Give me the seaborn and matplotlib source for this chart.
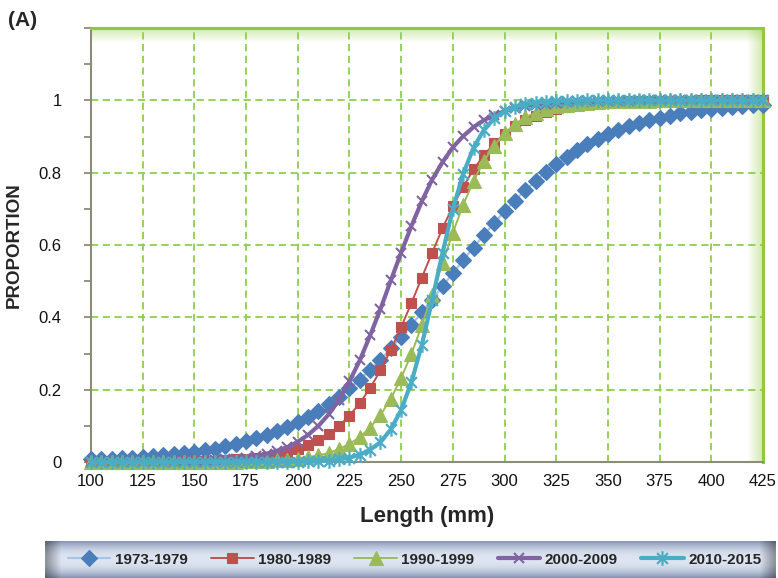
import numpy as np
import pandas as pd
import matplotlib
matplotlib.use("Agg")
import matplotlib.pyplot as plt
import seaborn as sns
from matplotlib.path import Path
from matplotlib.ticker import FixedLocator, FuncFormatter

# ---------------- data ----------------
lengths = [100, 105, 110, 115, 120, 125, 130, 135, 140, 145, 150, 155, 160, 165,
           170, 175, 180, 185, 190, 195, 200, 205, 210, 215, 220, 225, 230, 235,
           240, 245, 250, 255, 260, 265, 270, 275, 280, 285, 290, 295, 300, 305,
           310, 315, 320, 325, 330, 335, 340, 345, 350, 355, 360, 365, 370, 375,
           380, 385, 390, 395, 400, 405, 410, 415, 420, 425]

p_1973_1979 = [0.007, 0.008, 0.009, 0.010, 0.012, 0.014, 0.016, 0.019, 0.021, 0.025,
               0.028, 0.033, 0.037, 0.043, 0.049, 0.057, 0.065, 0.074, 0.085, 0.097,
               0.110, 0.125, 0.142, 0.161, 0.181, 0.204, 0.228, 0.255, 0.283, 0.314,
               0.346, 0.379, 0.414, 0.449, 0.486, 0.522, 0.558, 0.593, 0.628, 0.661,
               0.693, 0.723, 0.751, 0.777, 0.801, 0.823, 0.843, 0.862, 0.878, 0.893,
               0.906, 0.917, 0.928, 0.937, 0.945, 0.952, 0.958, 0.964, 0.968, 0.973,
               0.976, 0.979, 0.982, 0.984, 0.987, 0.988]

p_1980_1989 = [0.000, 0.000, 0.000, 0.000, 0.000, 0.001, 0.001, 0.001, 0.001, 0.002,
               0.002, 0.003, 0.004, 0.005, 0.007, 0.009, 0.012, 0.015, 0.020, 0.027,
               0.035, 0.046, 0.060, 0.077, 0.100, 0.128, 0.163, 0.204, 0.254, 0.310,
               0.373, 0.440, 0.510, 0.579, 0.646, 0.707, 0.761, 0.809, 0.848, 0.881,
               0.907, 0.928, 0.945, 0.958, 0.968, 0.975, 0.981, 0.986, 0.989, 0.992,
               0.994, 0.995, 0.997, 0.997, 0.998, 0.999, 0.999, 0.999, 0.999, 1.000,
               1.000, 1.000, 1.000, 1.000, 1.000, 1.000]

p_1990_1999 = [0.000, 0.000, 0.000, 0.000, 0.000, 0.000, 0.000, 0.000, 0.000, 0.000,
               0.000, 0.000, 0.001, 0.001, 0.001, 0.002, 0.002, 0.003, 0.005, 0.006,
               0.009, 0.013, 0.018, 0.025, 0.036, 0.050, 0.069, 0.095, 0.130, 0.175,
               0.232, 0.299, 0.378, 0.463, 0.550, 0.634, 0.711, 0.777, 0.832, 0.875,
               0.909, 0.934, 0.953, 0.966, 0.976, 0.983, 0.988, 0.991, 0.994, 0.996,
               0.997, 0.998, 0.998, 0.999, 0.999, 1.000, 1.000, 1.000, 1.000, 1.000,
               1.000, 1.000, 1.000, 1.000, 1.000, 1.000]

p_2000_2009 = [0.000, 0.000, 0.000, 0.000, 0.000, 0.001, 0.001, 0.001, 0.001, 0.002,
               0.003, 0.003, 0.005, 0.007, 0.009, 0.012, 0.017, 0.023, 0.031, 0.041,
               0.056, 0.075, 0.100, 0.132, 0.172, 0.223, 0.281, 0.350, 0.423, 0.502,
               0.579, 0.653, 0.721, 0.781, 0.829, 0.870, 0.901, 0.926, 0.945, 0.959,
               0.970, 0.978, 0.984, 0.988, 0.991, 0.994, 0.995, 0.997, 0.998, 0.998,
               0.999, 0.999, 0.999, 1.000, 1.000, 1.000, 1.000, 1.000, 1.000, 1.000,
               1.000, 1.000, 1.000, 1.000, 1.000, 1.000]

p_2010_2015 = [0.000, 0.000, 0.000, 0.000, 0.000, 0.000, 0.000, 0.000, 0.000, 0.000,
               0.000, 0.000, 0.000, 0.000, 0.000, 0.000, 0.000, 0.000, 0.000, 0.001,
               0.001, 0.002, 0.003, 0.004, 0.007, 0.012, 0.020, 0.034, 0.055, 0.090,
               0.144, 0.221, 0.324, 0.448, 0.578, 0.699, 0.797, 0.869, 0.918, 0.950,
               0.970, 0.982, 0.989, 0.994, 0.996, 0.998, 0.999, 0.999, 1.000, 1.000,
               1.000, 1.000, 1.000, 1.000, 1.000, 1.000, 1.000, 1.000, 1.000, 1.000,
               1.000, 1.000, 1.000, 1.000, 1.000, 1.000]

periods = ["1973-1979", "1980-1989", "1990-1999", "2000-2009", "2010-2015"]
series = [p_1973_1979, p_1980_1989, p_1990_1999, p_2000_2009, p_2010_2015]

x_ticks = [100, 125, 150, 175, 200, 225, 250, 275, 300, 325, 350, 375, 400, 425]
y_ticks = [0, 0.2, 0.4, 0.6, 0.8, 1.0]

# ---------------- style ----------------
sns.set_style("white")
plt.rcParams["font.family"] = ["Liberation Sans", "DejaVu Sans"]

star = Path([(-1, -1), (1, 1), (-1, 1), (1, -1), (0, -1.35), (0, 1.35)],
            [Path.MOVETO, Path.LINETO, Path.MOVETO, Path.LINETO, Path.MOVETO, Path.LINETO])

styles = [
    dict(color="#A9C3E3", marker="D", markersize=8.5, markerfacecolor="#4A7EBB",
         markeredgecolor="#4A7EBB", markeredgewidth=0.8, linewidth=1.6),
    dict(color="#C0504D", marker="s", markersize=7.5, markerfacecolor="#C0504D",
         markeredgecolor="#C0504D", markeredgewidth=0.8, linewidth=1.4),
    dict(color="#9BBB59", marker="^", markersize=10, markerfacecolor="#9BBB59",
         markeredgecolor="#9BBB59", markeredgewidth=0.8, linewidth=1.4),
    dict(color="#8064A2", marker="x", markersize=7.5, markerfacecolor="#8064A2",
         markeredgecolor="#8064A2", markeredgewidth=1.5, linewidth=3.0),
    dict(color="#4BACC6", marker=star, markersize=10.5, markerfacecolor="#4BACC6",
         markeredgecolor="#4BACC6", markeredgewidth=1.6, linewidth=3.0),
]

fig = plt.figure(figsize=(7.78, 5.78), dpi=100)
ax = fig.add_axes([91 / 778, 116 / 578, 672 / 778, 434 / 578])

for i, (lab, vals, st) in enumerate(zip(periods, series, styles)):
    df = pd.DataFrame({"Length": lengths, "Proportion": vals})
    sns.lineplot(data=df, x="Length", y="Proportion", ax=ax, label=lab,
                 legend=False, errorbar=None, sort=False, clip_on=False,
                 zorder=3 + i, **st)

ax.set_xlim(100, 425)
ax.set_ylim(0, 1.2)
ax.set_autoscale_on(False)

# grid
grid_c = "#8ED04A"
for xv in x_ticks[1:-1]:
    ax.axvline(xv, color=grid_c, lw=1.3, ls=(0, (4, 2.5)), zorder=1)
for yv in y_ticks[1:]:
    ax.axhline(yv, color=grid_c, lw=1.3, ls=(0, (4, 2.5)), zorder=1)

# glow on top and right frame
green = np.array([0.57, 0.80, 0.25])
top = np.zeros((40, 2, 4))
top[..., :3] = green
top[..., 3] = np.linspace(0.45, 0.0, 40)[:, None]
ax.imshow(top, extent=(0, 1, 1 - 0.035, 1), transform=ax.transAxes,
          aspect="auto", zorder=0.5, interpolation="bilinear")
right = np.zeros((2, 40, 4))
right[..., :3] = green
right[..., 3] = np.linspace(0.0, 0.45, 40)[None, :]
ax.imshow(right, extent=(1 - 0.024, 1, 0, 1), transform=ax.transAxes,
          aspect="auto", zorder=0.5, interpolation="bilinear")
ax.set_xlim(100, 425)
ax.set_ylim(0, 1.2)

# spines
for s in ["left", "bottom"]:
    ax.spines[s].set_color("#8C8C78")
    ax.spines[s].set_linewidth(1.5)
for s in ["top", "right"]:
    ax.spines[s].set_color("#92C83E")
    ax.spines[s].set_linewidth(2.2)

# ticks
ax.xaxis.set_major_locator(FixedLocator(x_ticks))
ax.yaxis.set_major_locator(FixedLocator(y_ticks))
ax.yaxis.set_minor_locator(FixedLocator([0.1, 0.3, 0.5, 0.7, 0.9, 1.1, 1.2]))
ax.yaxis.set_major_formatter(FuncFormatter(
    lambda v, p: "0" if v == 0 else ("1" if abs(v - 1) < 1e-9 else f"{v:.1f}")))
ax.tick_params(axis="y", which="both", direction="out", length=5, width=1.3,
               color="#8C8C78", left=True, pad=16)
ax.tick_params(axis="x", length=0, pad=9)
for t in ax.get_xticklabels() + ax.get_yticklabels():
    t.set_fontsize(12)
    t.set_color("#111111")

ax.set_xlabel("Length (mm)", fontsize=16, fontweight="bold", labelpad=12)
ax.set_ylabel("PROPORTION", fontsize=13.5, fontweight="bold")
ax.yaxis.set_label_coords(-0.102, 0.5)

fig.text(8 / 778, 1 - 20 / 578, "(A)", fontsize=15, fontweight="bold", va="center")

# legend with gradient background
lax = fig.add_axes([45 / 778, 0.0, 731 / 778, 37 / 578])
h = 60
v = np.abs(np.linspace(-1, 1, h))
light = np.array([0.87, 0.90, 0.95])
dark = np.array([0.52, 0.58, 0.70])
col = light[None, :] * (1 - v[:, None] ** 2.2) + dark[None, :] * (v[:, None] ** 2.2)
img = np.repeat(col[:, None, :], 200, axis=1)
hx = np.linspace(0, 1, 200)
edge = np.clip(1 - np.minimum(hx, 1 - hx) / 0.02, 0, 1) * 0.35
img = img * (1 - edge[None, :, None])
lax.imshow(img, aspect="auto", extent=(0, 1, 0, 1), interpolation="bilinear")
lax.set_axis_off()

handles, labels = ax.get_legend_handles_labels()
leg = fig.legend(handles, labels, loc="center", ncol=5,
                 bbox_to_anchor=((45 + 731 / 2 + 4) / 778, 18.5 / 578),
                 frameon=False, handlelength=2.8, columnspacing=1.5,
                 handletextpad=0.3,
                 prop=dict(weight="bold", size=11))

fig.savefig("out.png", dpi=100)
